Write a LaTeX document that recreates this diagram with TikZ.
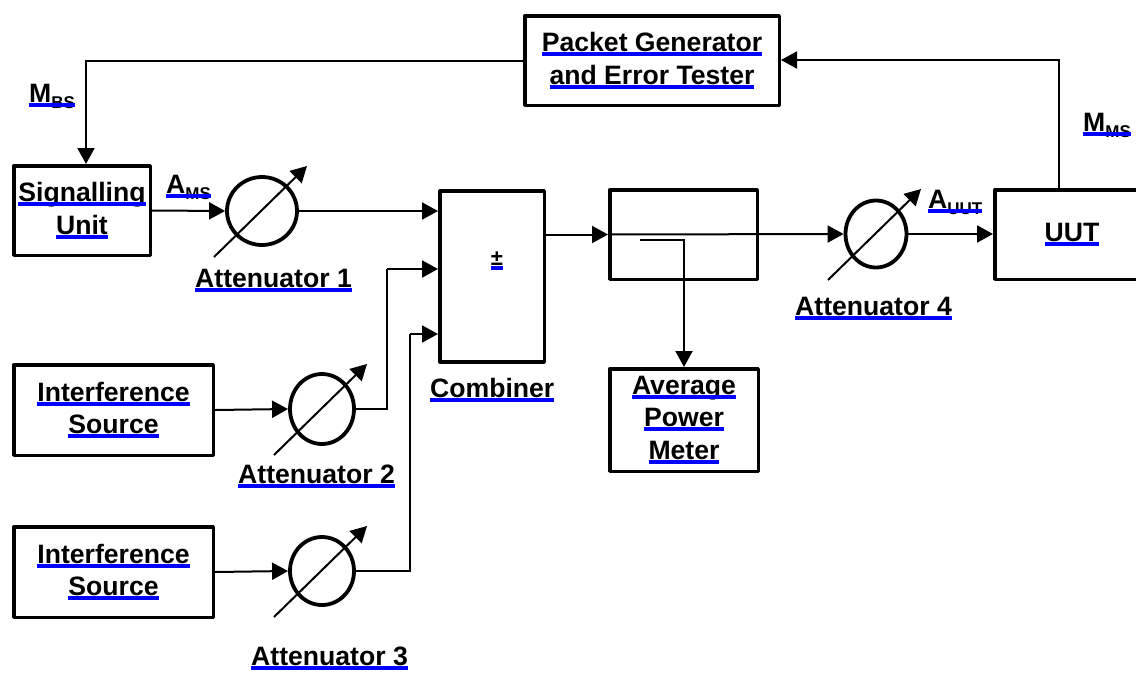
\documentclass[tikz,border=0pt]{standalone}
\usepackage{fontspec}
\setmainfont{Liberation Sans}
\usetikzlibrary{arrows.meta,shapes.geometric}
\newsavebox\ubox
\newcommand{\bu}[1]{\sbox\ubox{#1}\usebox\ubox\llap{\color{blue}\rule[-4.5pt]{\wd\ubox}{4pt}}}
\newcommand{\subtxt}[1]{\raisebox{-6pt}{\fontsize{17}{17}\selectfont #1}}
\newcommand{\bigf}{\fontsize{26.6}{32.5}\selectfont\bfseries}
\begin{document}
\begin{tikzpicture}[x=1pt,y=-1pt,
  box/.style={draw, line width=3.5pt, line join=round, rectangle, align=center, inner sep=0pt, font=\bigf},
  att/.style={draw, ellipse, line width=3.8pt, inner sep=0pt},
  conn/.style={line width=2pt, -{Triangle[length=16pt,width=17pt]}},
  wire/.style={line width=2pt},
  lbl/.style={inner sep=0pt, anchor=base west, font=\bigf}]
\useasboundingbox (0,0) rectangle (1136,673);
% boxes
\node[box, minimum width=254.5pt, minimum height=89.5pt] (pg) at (652,60.5) {\bu{Packet Generator}\\\bu{and Error Tester}};
\node[box, minimum width=136.5pt, minimum height=89.5pt] (su) at (82,210.5) {\bu{Signalling}\\\bu{Unit}};
\node[box, minimum width=199.5pt, minimum height=90.5pt] (is1) at (113.5,410) {\bu{Interference}\\\bu{Source}};
\node[box, minimum width=199.5pt, minimum height=90.5pt] (is2) at (113.5,572) {\bu{Interference}\\\bu{Source}};
\node[box, minimum width=104.5pt, minimum height=171pt] (comb) at (492,276.5) {};
\node[box, minimum width=147.5pt, minimum height=89.5pt] (cpl) at (683.5,234.5) {};
\node[box, minimum width=148.5pt, minimum height=102.5pt] (apm) at (684,420) {\bu{Average}\\\bu{Power}\\\bu{Meter}};
\node[box, minimum width=154.5pt, minimum height=89.5pt] (uut) at (1072,234.5) {\bu{UUT}};
% attenuators
\node[att, minimum width=70pt, minimum height=68pt] (att1) at (262,211) {};
\node[att, minimum width=64pt, minimum height=70pt] (att2) at (322,409) {};
\node[att, minimum width=64pt, minimum height=68pt] (att3) at (322,571) {};
\node[att, minimum width=61pt, minimum height=67pt] (att4) at (876,234) {};
% labels
\node[lbl] (lmbs) at (29,102) {\bu{M\subtxt{BS}}};
\node[lbl] (lams) at (166,193) {\bu{A\subtxt{MS}}};
\node[lbl] (la1) at (195,287) {\bu{Attenuator 1}};
\node[lbl] (la2) at (238,483) {\bu{Attenuator 2}};
\node[lbl] (la3) at (251,665) {\bu{Attenuator 3}};
\node[lbl] (lcomb) at (430,397) {\bu{Combiner}};
\node[lbl] (la4) at (795,315) {\bu{Attenuator 4}};
\node[lbl] (lauut) at (928,208) {\bu{A\subtxt{UUT}}};
\node[lbl] (lmms) at (1083,131) {\bu{M\subtxt{MS}}};
\node[inner sep=0pt, anchor=base, font=\fontsize{22}{22}\selectfont\bfseries] (pm) at (497,265) {\bu{±}};
% adjustment arrows
\foreach \a in {att1,att2,att3,att4}{
  \draw[conn] ([shift={(-48,46)}]\a.center) -- ([shift={(45,-45)}]\a.center);
}
% coordinates
\coordinate (fbl) at (86,61);
\coordinate (fbr) at (1059,60);
\coordinate (j2) at (387,269);
\coordinate (j3) at (410,334);
\coordinate (tap) at (640,240);
% connectors
\draw[conn] (pg.west) -| (su.north -| fbl);
\draw[conn] (uut.north -| fbr) -- (fbr) -- (pg.east |- fbr);
\draw[conn] (su.east) -- (att1.west);
\draw[conn] (att1.east) -- (comb.west |- att1.east);
\draw[conn] (is1.east) -- (att2.west);
\draw[conn] (is2.east) -- (att3.west);
\draw[wire] (att2.east) -| (j2);
\draw[conn] (j2) -- (comb.west |- j2);
\draw[wire] (att3.east) -| (j3);
\draw[conn] (j3) -- (comb.west |- j3);
\draw[conn] (comb.east |- cpl.west) -- (cpl.west);
\draw[conn] (cpl.west) -- (att4.west);
\draw[conn] (tap) -| (apm.north);
\draw[conn] (att4.east) -- (uut.west |- att4.east);
\end{tikzpicture}
\end{document}
